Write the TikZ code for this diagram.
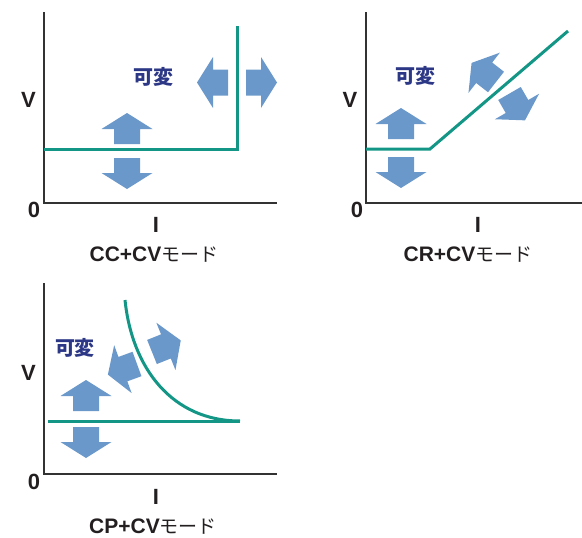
\documentclass[tikz,border=0pt]{standalone}
\usepackage{fontspec}
\setmainfont{Liberation Sans}
\newfontfamily\cjk{Noto Sans CJK JP}
\definecolor{teal1}{RGB}{20,150,135}
\definecolor{arrowblue}{RGB}{106,152,202}
\definecolor{navy1}{RGB}{44,56,134}
\definecolor{axisgray}{RGB}{50,50,50}
\definecolor{txt}{RGB}{35,31,32}
\newcommand{\modefont}{\fontsize{19}{19}\selectfont\cjk\mdseries}
\tikzset{
  axisline/.style={draw=axisgray, line width=1.5pt},
  curveline/.style={draw=teal1, line width=3pt},
  axlabel/.style={font=\fontsize{22}{22}\selectfont\bfseries, text=txt, inner sep=0pt},
  modelabel/.style={font=\fontsize{21}{21}\selectfont\bfseries, text=txt, inner sep=0pt, anchor=base},
  varlabel/.style={font=\fontsize{20}{20}\selectfont\cjk\bfseries, text=navy1, inner sep=0pt},
  fatarrow/.pic={\fill[arrowblue] (0pt,-13pt) -- (15pt,-13pt) -- (15pt,-25.5pt) -- (31pt,0pt) -- (15pt,25.5pt) -- (15pt,13pt) -- (0pt,13pt) -- cycle;}
}
\begin{document}
\begin{tikzpicture}[x=1pt,y=-1pt]
\useasboundingbox (0,0) rectangle (582,538);
% ---------- Panel 1: CC+CV ----------
\coordinate (a1top) at (44,12);
\coordinate (a1org) at (44,203);
\coordinate (a1end) at (277,203);
\draw[axisline] (a1top) -- (a1org) -- (a1end);
\coordinate (c1s) at (44,149.5);
\coordinate (c1k) at (237,149.5);
\coordinate (c1e) at (237,26);
\draw[curveline] (c1s) -- (c1k) -- (c1e);
\pic[rotate=90] at (127,144) {fatarrow};
\pic[rotate=-90] at (127,158) {fatarrow};
\pic[rotate=180] at (228,82.5) {fatarrow};
\pic[rotate=0] at (246,82.5) {fatarrow};
\node[varlabel] (v1) at (153,77) {可変};
\node[axlabel] (V1) at (28.5,100) {V};
\node[axlabel] (O1) at (34,210) {0};
\node[axlabel] (I1) at (156,225) {I};
\node[modelabel] (m1) at (154,261) {CC+CV{\modefont モード}};
% ---------- Panel 2: CR+CV ----------
\coordinate (a2top) at (366,12);
\coordinate (a2org) at (366,203);
\coordinate (a2end) at (582,203);
\draw[axisline] (a2top) -- (a2org) -- (a2end);
\coordinate (c2s) at (366,149);
\coordinate (c2k) at (430,149);
\coordinate (c2e) at (568,31);
\draw[curveline] (c2s) -- (c2k) -- (c2e);
\pic[rotate=90] at (401,139) {fatarrow};
\pic[rotate=-90] at (401,157) {fatarrow};
\pic[rotate=142] at (496,82) {fatarrow};
\pic[rotate=-60] at (509.5,93.5) {fatarrow};
\node[varlabel] (v2) at (415,76) {可変};
\node[axlabel] (V2) at (350,100) {V};
\node[axlabel] (O2) at (357,210) {0};
\node[axlabel] (I2) at (478,225) {I};
\node[modelabel] (m2) at (468,261) {CR+CV{\modefont モード}};
% ---------- Panel 3: CP+CV ----------
\coordinate (a3top) at (44,283);
\coordinate (a3org) at (44,474);
\coordinate (a3end) at (277,474);
\draw[axisline] (a3top) -- (a3org) -- (a3end);
\coordinate (c3s) at (48,421);
\coordinate (c3e) at (240,421);
\coordinate (c3t) at (125,300);
\draw[curveline] (c3s) -- (c3e);
\draw[curveline] (c3t) .. controls (132,368) and (172,421) .. (c3e);
\pic[rotate=90] at (86,411) {fatarrow};
\pic[rotate=-90] at (86,427) {fatarrow};
\pic[rotate=200] at (137,364) {fatarrow};
\pic[rotate=22] at (152,352) {fatarrow};
\node[varlabel] (v3) at (75,348) {可変};
\node[axlabel] (V3) at (28.5,373) {V};
\node[axlabel] (O3) at (34,482) {0};
\node[axlabel] (I3) at (156,497) {I};
\node[modelabel] (m3) at (153,533) {CP+CV{\modefont モード}};
\end{tikzpicture}
\end{document}
